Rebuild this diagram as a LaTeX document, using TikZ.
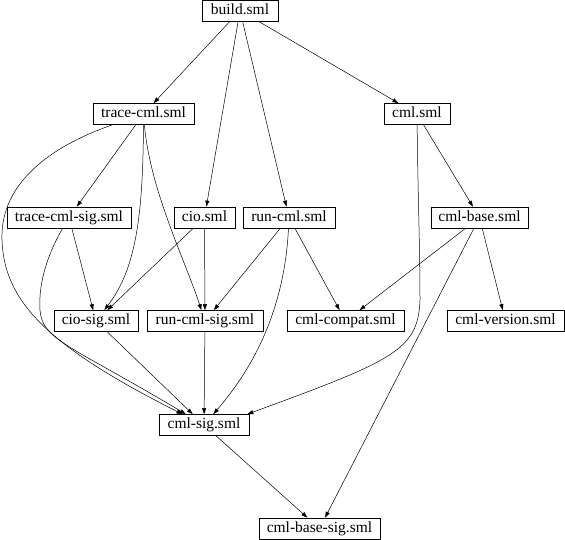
\documentclass[tikz,border=0pt]{standalone}
\usepackage{fontspec}
\setmainfont{Liberation Serif}
\usetikzlibrary{arrows.meta}
\tikzset{
  box/.style={draw, line width=0.7pt, minimum height=21pt, inner sep=0pt,
    text height=11pt, text depth=3.5pt, font=\fontsize{15.5}{16}\selectfont},
  dep/.style={-{Triangle[length=6pt,width=4pt]}, line width=0.5pt}
}
\begin{document}
\begin{tikzpicture}[x=1pt,y=-1pt]
\useasboundingbox (0,0) rectangle (565,539);
% row 1
\node[box, minimum width=76pt]  (build)  at (240,10.5)   {build.sml};
% row 2
\node[box, minimum width=101pt] (tcml)   at (143.5,114)  {trace-cml.sml};
\node[box, minimum width=66pt]  (cml)    at (417,114)    {cml.sml};
% row 3
\node[box, minimum width=124pt] (tcsig)  at (69,217.5)   {trace-cml-sig.sml};
\node[box, minimum width=61pt]  (cio)    at (204.5,217.5){cio.sml};
\node[box, minimum width=92pt]  (rcml)   at (289,217.5)  {run-cml.sml};
\node[box, minimum width=97pt]  (cbase)  at (479.5,217.5){cml-base.sml};
% row 4
\node[box, minimum width=84pt]  (ciosig) at (96,321)     {cio-sig.sml};
\node[box, minimum width=116pt] (rcsig)  at (205,321)    {run-cml-sig.sml};
\node[box, minimum width=117pt] (compat) at (345.5,321)  {cml-compat.sml};
\node[box, minimum width=117pt] (cver)   at (505.5,321)  {cml-version.sml};
% row 5
\node[box, minimum width=90pt]  (csig)   at (204,425)    {cml-sig.sml};
% row 6
\node[box, minimum width=121pt] (cbsig)  at (319.5,528.5){cml-base-sig.sml};

% edges from build
\draw[dep] (build) -- (tcml);
\draw[dep] (build) -- (cio);
\draw[dep] (build) -- (rcml);
\draw[dep] (build) -- (cml);
% edges from trace-cml
\draw[dep] (tcml) -- (tcsig);
\draw[dep] (tcml) .. controls (143,220) and (135,270) .. (ciosig);
\draw[dep] (tcml) .. controls (150,190) and (185,260) .. (rcsig);
\coordinate (l1) at (2,240);
\draw[dep] (tcml) .. controls (40,150) and (0,190) .. (l1)
                  .. controls (4,300) and (45,345) .. (csig);
% edges from cml
\draw[dep] (cml) -- (cbase);
\coordinate (r1) at (420,300);
\draw[dep] (cml) .. controls (418,200) and (420,250) .. (r1)
                 .. controls (418,350) and (395,360) .. ([xshift=-2pt]csig.north east);
% edges from trace-cml-sig
\draw[dep] (tcsig) -- (ciosig);
\coordinate (l2) at (40,310);
\draw[dep] (tcsig) .. controls (50,250) and (38,280) .. (l2)
                   .. controls (42,340) and (70,345) .. (csig);
% edges from cio
\draw[dep] (cio) -- (ciosig);
\draw[dep] (cio) -- (rcsig);
% edges from run-cml
\draw[dep] (rcml) -- (rcsig);
\draw[dep] (rcml) -- (compat);
\draw[dep] (rcml) .. controls (285,300) and (260,360) .. (csig);
% edges from cml-base
\draw[dep] (cbase) -- (compat);
\draw[dep] (cbase) -- (cver);
\draw[dep] (cbase) -- (cbsig);
% row 4 to cml-sig
\draw[dep] (ciosig) -- (csig);
\draw[dep] (rcsig) -- (csig);
% cml-sig to cml-base-sig
\draw[dep] (csig) -- (cbsig);
\end{tikzpicture}
\end{document}
